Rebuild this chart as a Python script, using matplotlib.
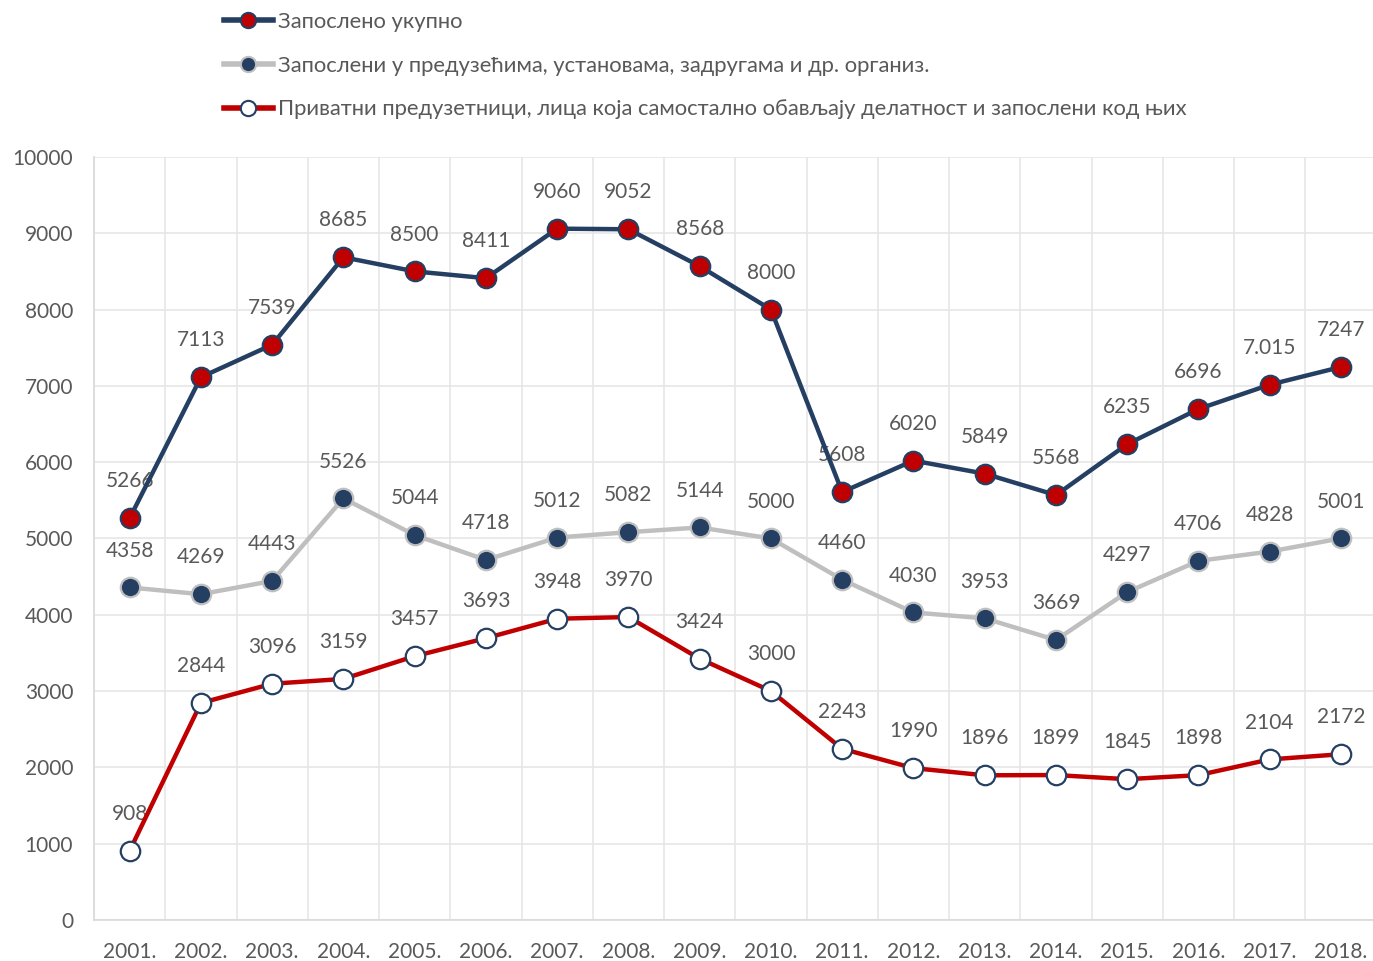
import matplotlib.pyplot as plt
from matplotlib.lines import Line2D

years = ['2001.', '2002.', '2003.', '2004.', '2005.', '2006.', '2007.', '2008.', '2009.',
         '2010.', '2011.', '2012.', '2013.', '2014.', '2015.', '2016.', '2017.', '2018.']
total = [5266, 7113, 7539, 8685, 8500, 8411, 9060, 9052, 8568, 8000, 5608, 6020, 5849,
         5568, 6235, 6696, 7015, 7247]
total_labels = [str(v) for v in total]
total_labels[16] = '7.015'
firms = [4358, 4269, 4443, 5526, 5044, 4718, 5012, 5082, 5144, 5000, 4460, 4030, 3953,
         3669, 4297, 4706, 4828, 5001]
private = [908, 2844, 3096, 3159, 3457, 3693, 3948, 3970, 3424, 3000, 2243, 1990, 1896,
           1899, 1845, 1898, 2104, 2172]

names = ['Запослено укупно',
         'Запослени у предузећима, установама, задругама и др. организ.',
         'Приватни предузетници, лица која самостално обављају делатност и запослени код њих']

navy = '#253F63'
red = '#C00000'
gray = '#BFBFBF'
txt = '#595959'

plt.rcParams['font.family'] = ['Lato', 'DejaVu Sans']

fig = plt.figure(figsize=(13.73, 9.61), dpi=100)
ax = fig.add_axes([0.0685, 0.0427, 0.9315, 0.794])

x = list(range(1, len(years) + 1))
styles = [
    (total, total_labels, navy, red, navy),
    (firms, [str(v) for v in firms], gray, navy, gray),
    (private, [str(v) for v in private], red, 'white', navy),
]
handles = []
for vals, labs, lc, mfc, mec in styles:
    ax.plot(x, vals, color=lc, lw=3.2, marker='o', ms=14, mfc=mfc, mec=mec, mew=1.6,
            zorder=4, clip_on=False)
    handles.append(Line2D([0], [0], color=lc, lw=4, marker='o', ms=11, mfc=mfc, mec=mec,
                          mew=1.5))
    for xi, v, s in zip(x, vals, labs):
        ax.annotate(s, (xi, v), xytext=(0, 26.5), textcoords='offset points', ha='center',
                    va='center', fontsize=15, color=txt, zorder=3)

ax.set_xlim(0.5, 18.45)
ax.set_ylim(0, 10000)
ax.set_yticks(range(0, 10001, 1000))
ax.set_xticks(x)
ax.set_xticklabels(years)
ax.set_xticks([i + 0.5 for i in range(0, 18)], minor=True)
ax.grid(True, which='major', axis='y', color='#E6E6E6', lw=1.2)
ax.grid(True, which='minor', axis='x', color='#E6E6E6', lw=1.2)
ax.set_axisbelow(True)
ax.tick_params(which='both', length=0)
ax.tick_params(axis='x', pad=16, labelsize=15, labelcolor=txt)
ax.tick_params(axis='y', pad=15, labelsize=15, labelcolor=txt)
for s in ['top', 'right']:
    ax.spines[s].set_visible(False)
for s in ['left', 'bottom']:
    ax.spines[s].set_color('#D9D9D9')
    ax.spines[s].set_linewidth(1.2)

fig.legend(handles, names, loc='upper left', bbox_to_anchor=(0.149, 1.008), frameon=False,
           fontsize=15.8, labelcolor=txt, handlelength=2.2, handletextpad=0.25,
           labelspacing=1.08)

fig.savefig('out.png', dpi=100)
